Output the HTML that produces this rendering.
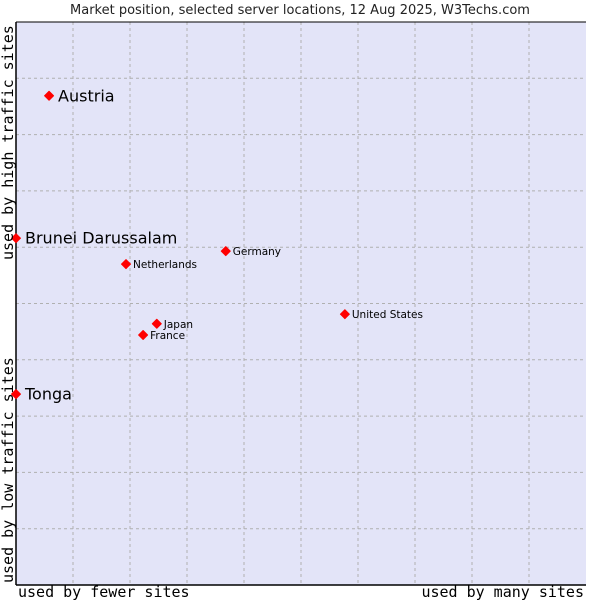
<!DOCTYPE html>
<html><head><meta charset="utf-8"><style>
body{margin:0;background:#fff;width:600px;height:600px;overflow:hidden}
svg{display:block}
</style></head><body>
<svg id="chart" width="600" height="600" xmlns="http://www.w3.org/2000/svg">
<text x="300" y="14" text-anchor="middle" font-family="DejaVu Sans, sans-serif" font-size="13" fill="#222">Market position, selected server locations, 12 Aug 2025, W3Techs.com</text>
<rect x="16" y="22" width="570" height="563" fill="#e3e4f8"/>
<g id="grid"></g>
<line x1="16" y1="22" x2="16" y2="585" stroke="#000" stroke-width="1.5"/>
<line x1="16" y1="585" x2="586" y2="585" stroke="#000" stroke-width="1.5"/>
<line x1="16" y1="22" x2="586" y2="22" stroke="#000" stroke-width="1"/>
<g id="points"></g>
<text x="18" y="597" font-family="DejaVu Sans Mono, monospace" font-size="15" fill="#000">used by fewer sites</text>
<text x="584" y="597" text-anchor="end" font-family="DejaVu Sans Mono, monospace" font-size="15" fill="#000">used by many sites</text>
<text transform="translate(13,583) rotate(-90)" font-family="DejaVu Sans Mono, monospace" font-size="15" fill="#000">used by low traffic sites</text>
<text transform="translate(13,260) rotate(-90)" font-family="DejaVu Sans Mono, monospace" font-size="15" fill="#000">used by high traffic sites</text>
</svg>
<script>
const names = ["Austria","Brunei Darussalam","Netherlands","Germany","United States","Japan","France","Tonga"];
const xValues = [5.8,0,19.3,36.8,57.7,24.7,22.3,0];
const yValues = [86.9,61.6,57.0,59.3,48.1,46.4,44.4,33.9];
const bigLabel = [true,true,false,false,false,false,false,true];
const gridTicks = [10,20,30,40,50,60,70,80,90];

const X0=16,X1=586,Y0=22,Y1=585,NS="http://www.w3.org/2000/svg";
const xs=v=>X0+(X1-X0)*v/100;
const ys=v=>Y1-(Y1-Y0)*v/100;
const grid=document.getElementById('grid');
gridTicks.forEach(t=>{
  const v=document.createElementNS(NS,'line');
  v.setAttribute('x1',xs(t));v.setAttribute('x2',xs(t));v.setAttribute('y1',Y0);v.setAttribute('y2',Y1);
  v.setAttribute('stroke','#b0b0b0');v.setAttribute('stroke-dasharray','3,3');
  
  
  grid.appendChild(v);
  const h=document.createElementNS(NS,'line');
  h.setAttribute('y1',ys(t));h.setAttribute('y2',ys(t));h.setAttribute('x1',X0);h.setAttribute('x2',X1);
  h.setAttribute('stroke','#b0b0b0');h.setAttribute('stroke-dasharray','3,3');
  
  
  grid.appendChild(h);
});
const pts=document.getElementById('points');
names.forEach((n,i)=>{
  const cx=xs(xValues[i]),cy=ys(yValues[i]);
  const d=document.createElementNS(NS,'path');
  d.setAttribute('d',`M${cx-4.5},${cy}L${cx},${cy-4.5}L${cx+4.5},${cy}L${cx},${cy+4.5}Z`);
  d.setAttribute('fill','#f00');
  d.setAttribute('stroke','#f00');
  d.setAttribute('stroke-linejoin','round');
  d.setAttribute('stroke-width','1');
  
  
  pts.appendChild(d);
  const t=document.createElementNS(NS,'text');
  const big=bigLabel[i];
  t.setAttribute('x',cx+(big?9:7));
  t.setAttribute('y',cy+(big?5.5:4));
  t.setAttribute('font-family','DejaVu Sans, sans-serif');
  t.setAttribute('font-size',big?16:10.5);
  t.setAttribute('fill','#000');
  t.textContent=n;
  
  
  pts.appendChild(t);
});
</script>
</body></html>
